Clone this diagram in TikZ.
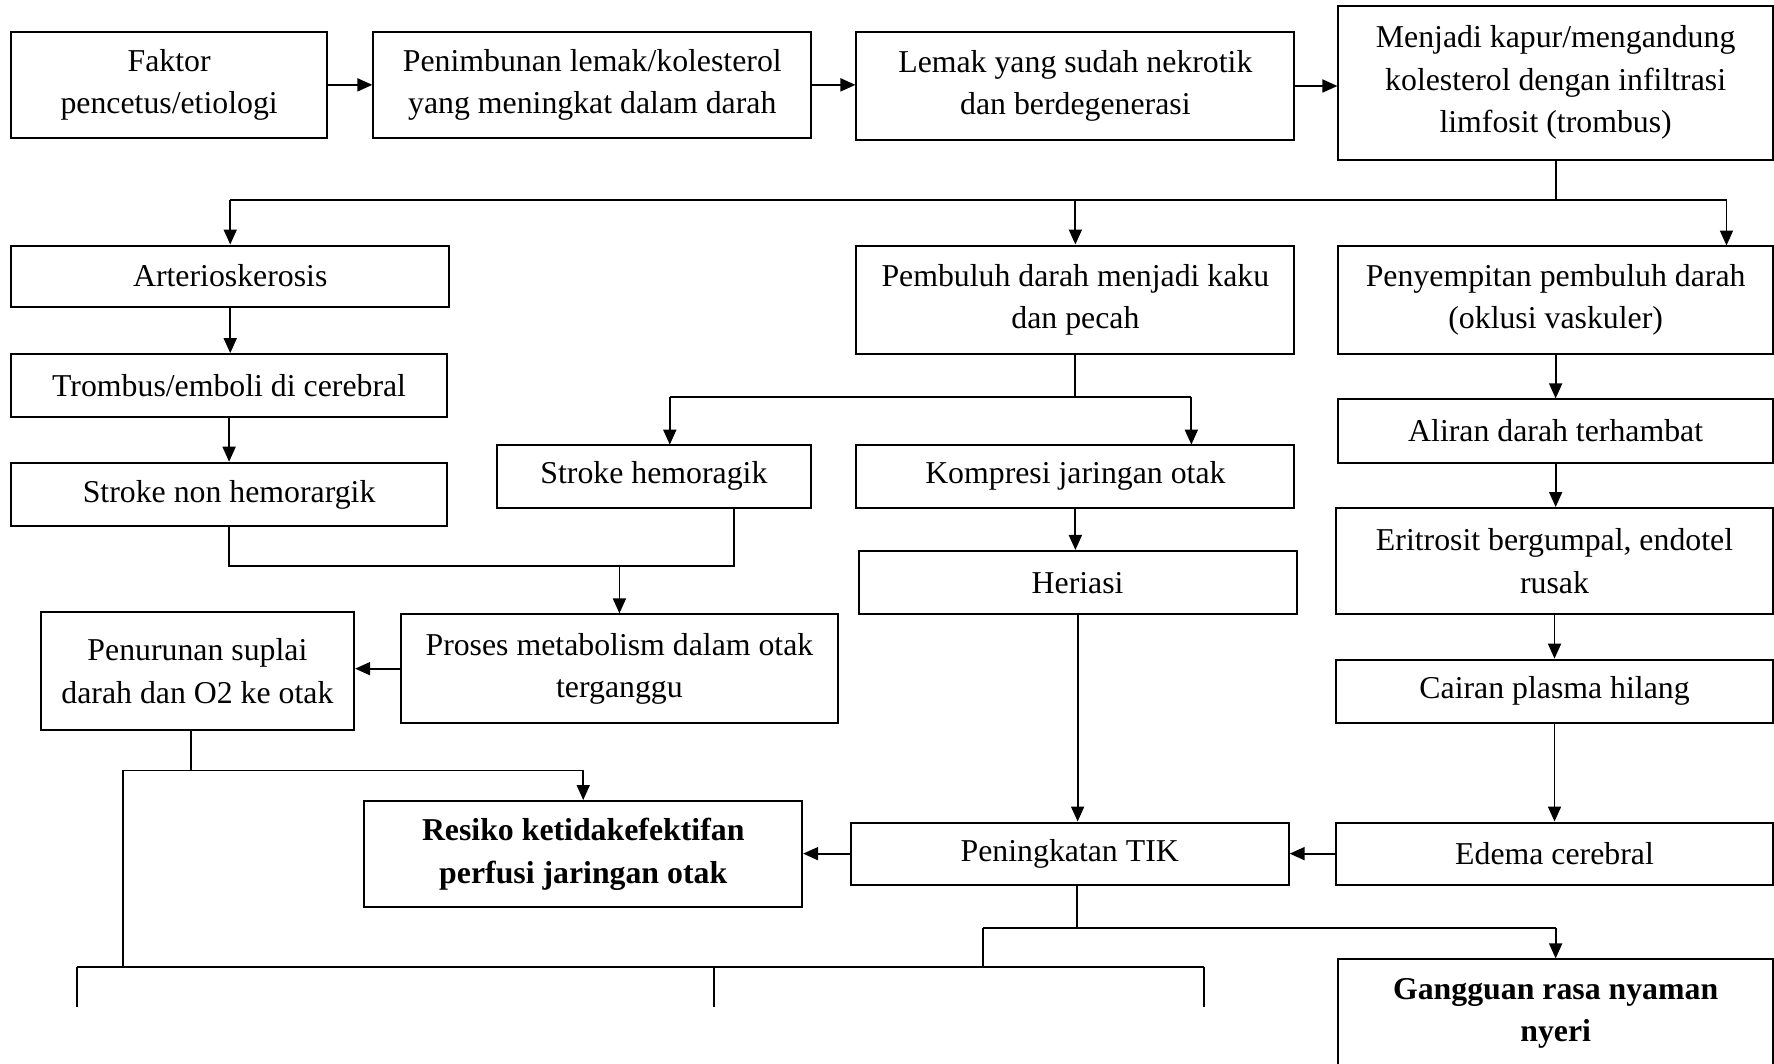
\documentclass[tikz,border=0pt]{standalone}
\usepackage{fontspec}
\setmainfont{Liberation Serif}
\usetikzlibrary{arrows.meta,calc}
\tikzset{
  box/.style={draw, line width=1pt, align=center, inner sep=0pt, font=\fontsize{15.9}{21.2}\selectfont},
  bbox/.style={box, font=\fontsize{15.9}{21.2}\selectfont\bfseries},
  conn/.style={line width=0.9pt},
  arr/.style={conn, -{Triangle[length=7.5pt,width=6.5pt]}},
}
\newcommand\mybox[7][box]{%
  \node[#1, minimum width={(#5-#3)*0.5657pt}, minimum height={(#6-#4)*0.5657pt}] (#2) at ({(#3+#5)/2},{(#4+#6)/2}) {#7};}
\begin{document}
\begin{tikzpicture}[x=0.5657pt,y=-0.5657pt]
\useasboundingbox[fill=white] (0,0) rectangle (1568,940);
% top row
\mybox{fak}{10}{28}{289}{122}{Faktor\\pencetus/etiologi}
\mybox{pen}{330}{28}{717}{122}{Penimbunan lemak/kolesterol\\yang meningkat dalam darah}
\mybox{lem}{757}{28}{1144}{124}{Lemak yang sudah nekrotik\\dan berdegenerasi}
\mybox{men}{1183}{5}{1567}{141}{Menjadi kapur/mengandung\\kolesterol dengan infiltrasi\\limfosit (trombus)}
% left column
\mybox{art}{10}{217}{397}{271}{Arterioskerosis}
\mybox{tro}{10}{313}{395}{369}{Trombus/emboli di cerebral}
\mybox{snh}{10}{409}{395}{465}{Stroke non hemorargik}
% middle
\mybox{pem}{757}{217}{1144}{313}{Pembuluh darah menjadi kaku\\dan pecah}
\mybox{sh}{439}{393}{717}{449}{Stroke hemoragik}
\mybox{kom}{757}{393}{1144}{449}{Kompresi jaringan otak}
\mybox{her}{759}{487}{1146}{543}{Heriasi}
\mybox{pro}{354}{543}{741}{639}{Proses metabolism dalam otak\\terganggu}
\mybox{pns}{36}{541}{313}{645}{Penurunan suplai\\darah dan O2 ke otak}
\mybox[bbox]{res}{322}{708}{709}{802}{Resiko ketidakefektifan\\perfusi jaringan otak}
\mybox{tik}{752}{727}{1139}{782}{Peningkatan TIK}
% right column
\mybox{pny}{1183}{217}{1567}{313}{Penyempitan pembuluh darah\\(oklusi vaskuler)}
\mybox{ali}{1183}{353}{1567}{409}{Aliran darah terhambat}
\mybox{eri}{1181}{449}{1567}{543}{Eritrosit bergumpal, endotel\\rusak}
\mybox{cai}{1181}{583}{1567}{639}{Cairan plasma hilang}
\mybox{ede}{1181}{727}{1567}{782}{Edema cerebral}
\mybox[bbox]{gan}{1183}{848}{1567}{943}{Gangguan rasa nyaman\\nyeri}
% level coordinates
\coordinate (y177) at (0,177);
\coordinate (y351) at (0,351);
\coordinate (y500) at (0,500);
\coordinate (y681) at (0,681);
\coordinate (y820) at (0,820);
\coordinate (y855) at (0,855);
\coordinate (y890) at (0,890);
\coordinate (pnyIn) at (1526,217);
\coordinate (shIn) at (592,393);
\coordinate (komIn) at (1053,393);
\coordinate (shOut) at (649,449);
\coordinate (pnsOut) at (169,645);
\coordinate (tikOut) at (952,782);
\coordinate (xL) at (109,0);
\coordinate (xA) at (68,0);
\coordinate (xB) at (631,0);
\coordinate (xC) at (1064,0);
\coordinate (xT) at (869,0);
% top row arrows
\draw[arr] (fak.east) -- (fak.east -| pen.west);
\draw[arr] (pen.east) -- (pen.east -| lem.west);
\draw[arr] (lem.east) -- (lem.east -| men.west);
% branch from men
\draw[conn] (men.south) -- (men.south |- y177);
\draw[conn] (art.north |- y177) -- (pnyIn |- y177);
\draw[arr] (art.north |- y177) -- (art.north);
\draw[arr] (pem.north |- y177) -- (pem.north);
\draw[arr] (pnyIn |- y177) -- (pnyIn);
% left column
\draw[arr] (art.south) -- (art.south |- tro.north);
\draw[arr] (tro.south) -- (tro.south |- snh.north);
% pem branch
\draw[conn] (pem.south) -- (pem.south |- y351);
\draw[conn] (shIn |- y351) -- (komIn |- y351);
\draw[arr] (shIn |- y351) -- (shIn);
\draw[arr] (komIn |- y351) -- (komIn);
\draw[arr] (kom.south) -- (kom.south |- her.north);
\draw[arr] (her.south) -- (her.south |- tik.north);
% right column
\draw[arr] (pny.south) -- (pny.south |- ali.north);
\draw[arr] (ali.south) -- (ali.south |- eri.north);
\draw[arr] (eri.south) -- (eri.south |- cai.north);
\draw[arr] (cai.south) -- (cai.south |- ede.north);
\draw[arr] (ede.west) -- (ede.west -| tik.east);
\draw[arr] (tik.west) -- (tik.west -| res.east);
% stroke merge
\draw[conn] (snh.south) -- (snh.south |- y500) -- (shOut |- y500) -- (shOut);
\draw[arr] (pro.north |- y500) -- (pro.north);
\draw[arr] (pro.west) -- (pro.west -| pns.east);
% from pns
\draw[conn] (pnsOut) -- (pnsOut |- y681);
\draw[conn] (xL |- y681) -- (res.north |- y681);
\draw[arr] (res.north |- y681) -- (res.north);
\draw[conn] (xL |- y681) -- (xL |- y855);
\draw[conn] (xA |- y855) -- (xC |- y855);
\draw[conn] (xA |- y855) -- (xA |- y890);
\draw[conn] (xB |- y855) -- (xB |- y890);
\draw[conn] (xC |- y855) -- (xC |- y890);
% from tik
\draw[conn] (tikOut) -- (tikOut |- y820);
\draw[conn] (xT |- y820) -- (gan.north |- y820);
\draw[conn] (xT |- y820) -- (xT |- y855);
\draw[arr] (gan.north |- y820) -- (gan.north);
\end{tikzpicture}
\end{document}
